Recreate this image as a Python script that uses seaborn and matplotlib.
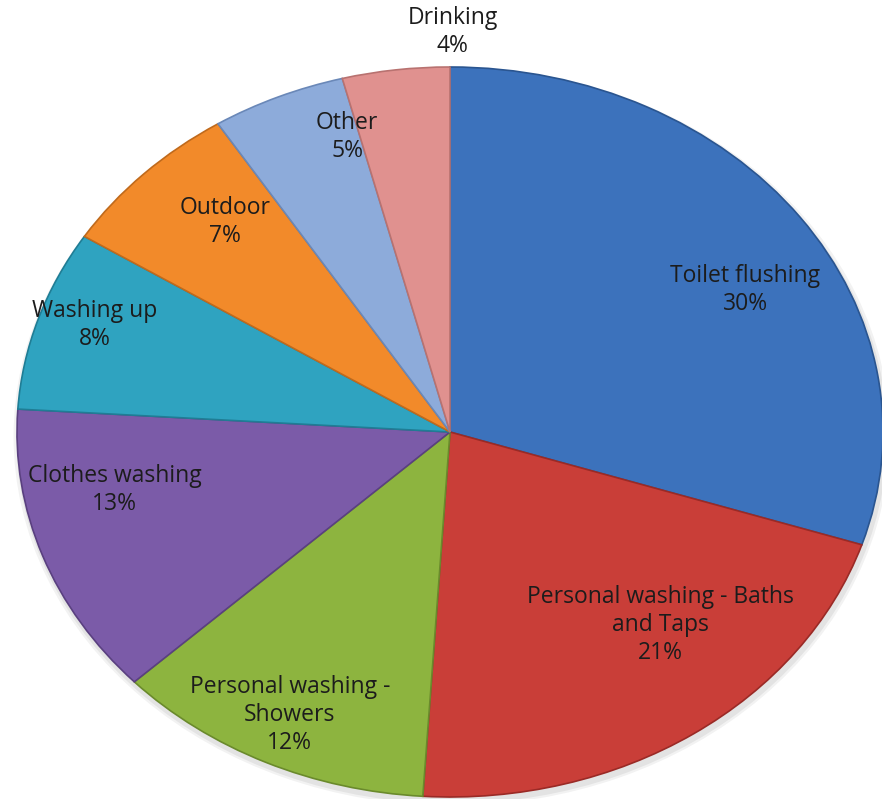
import numpy as np
import matplotlib
matplotlib.use("Agg")
import matplotlib.pyplot as plt
import seaborn as sns

categories = ["Toilet flushing", "Personal washing - Baths\nand Taps", "Personal washing -\nShowers",
              "Clothes washing", "Washing up", "Outdoor", "Other", "Drinking"]
values = [30, 21, 12, 13, 8, 7, 5, 4]
pct_labels = ["30%", "21%", "12%", "13%", "8%", "7%", "5%", "4%"]

colors = ["#3C72BC", "#C93E38", "#8DB43F", "#7B5BA8", "#2FA3C0", "#F28A2A", "#8DABDA", "#E0918F"]
edge_colors = ["#2A5590", "#9A2A26", "#6A8A2C", "#5A4080", "#1F7D95", "#C06A1C", "#6A88B8", "#B87270"]

# label placement (radius fraction, angle clockwise from top in degrees)
label_r = [0.785, 0.718, 0.859, 0.790, 0.871, 0.775, 0.842, 1.096]
label_ang = [60.3, 137.5, 205.5, 258.4, 289.7, 317.9, 343.6, 0.3]

sns.set_theme(style="white")
plt.rcParams['font.family'] = ['Open Sans', 'DejaVu Sans']

fig = plt.figure(figsize=(8.82, 7.99), dpi=100)
ax = fig.add_axes([0, 0, 1, 1])

# soft shadow
for s, a in [(1.012, 0.05), (1.006, 0.06)]:
    ax.pie([1], radius=s, center=(0.004, -0.012), colors=["#000000"],
           wedgeprops=dict(alpha=a, linewidth=0))

wedges, _ = ax.pie(values, colors=colors, startangle=90, counterclock=False,
                   wedgeprops=dict(linewidth=1.2))
for w, ec in zip(wedges, edge_colors):
    w.set_edgecolor(ec)

for cat, pct, r, ang in zip(categories, pct_labels, label_r, label_ang):
    t = np.deg2rad(ang)
    x, y = r * np.sin(t), r * np.cos(t)
    ax.text(x, y, f"{cat}\n{pct}", ha="center", va="center", fontsize=16.5,
            fontweight="medium", color="#1c1c1c", linespacing=1.22)

ax.set_aspect('auto')
cx, cy, rx, ry = 450, 432, 433, 365
ax.set_xlim(-cx / rx, (882 - cx) / rx)
ax.set_ylim(-(799 - cy) / ry, cy / ry)
ax.axis('off')

fig.savefig("out.png", dpi=100)
